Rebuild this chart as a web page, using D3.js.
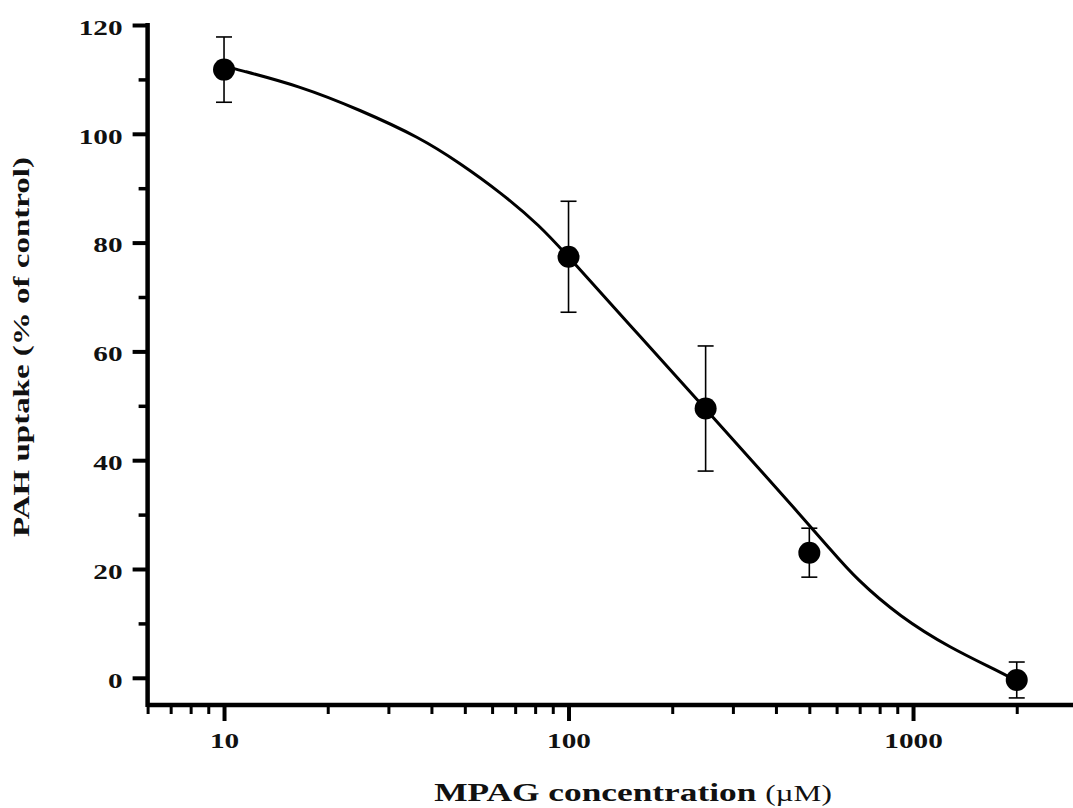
<!DOCTYPE html>
<html>
<head>
<meta charset="utf-8">
<script src="https://cdn.jsdelivr.net/npm/d3@7"></script>
<style>
  body { margin: 0; background: #fff; }
  text { font-family: "Liberation Serif", "Times New Roman", serif; fill: #111; }
</style>
</head>
<body>
<script>
// measured points (mean +/- error)
const concentration = [10, 100, 250, 500, 2000];
const uptake = [111.8, 77.4, 49.5, 23.0, -0.4];
const errorBar = [6.0, 10.2, 11.5, 4.5, 3.3];

// fitted curve
const curveConc = [10, 10.8, 16.6, 24.8, 37.1, 48.4, 63.3, 82.6, 100, 161, 250, 360, 470, 574, 683, 917, 1281, 1789, 2000];
const curveUptake = [112.5, 111.9, 108.8, 104.4, 99.3, 94.6, 89.3, 83.1, 77.4, 62.8, 49.4, 38.2, 30.0, 23.7, 18.2, 11.2, 5.5, 1.1, -0.6];

const yMajor = [0, 20, 40, 60, 80, 100, 120];
const yMinor = [10, 30, 50, 70, 90, 110];
const xMajor = [10, 100, 1000];
const xMinor = [6, 7, 8, 9, 20, 30, 40, 50, 60, 70, 80, 90, 200, 300, 400, 500, 600, 700, 800, 900, 2000];

const width = 1073;
const height = 808;

const svg = d3
  .select("body")
  .append("svg")
  .attr("width", width)
  .attr("height", height);

const x = d3.scaleLog().domain([6, 3000]).range([147.6, 1077.4]);
const y = d3.scaleLinear().domain([-5, 120]).range([705, 25]);

// axes
const xAxisMinor = d3.axisBottom(x).tickValues(xMinor).tickSize(9).tickFormat("");
const xAxisMajor = d3.axisBottom(x).tickValues(xMajor).tickSize(16).tickPadding(11).tickFormat(d3.format("d"));
const yAxisMinor = d3.axisLeft(y).tickValues(yMinor).tickSize(9).tickFormat("");
const yAxisMajor = d3.axisLeft(y).tickValues(yMajor).tickSize(15).tickPadding(10).tickFormat(d3.format("d"));

function styleAxis(g, w) {
  g.select(".domain").remove();
  g.selectAll(".tick line").attr("stroke", "#000").attr("stroke-width", w);
}

svg.append("g").attr("transform", `translate(0,${y(-5)})`).call(xAxisMinor).call((g) => styleAxis(g, 3));
const gx = svg.append("g").attr("transform", `translate(0,${y(-5)})`).call(xAxisMajor).call((g) => styleAxis(g, 4));
svg.append("g").attr("transform", `translate(${x(6)},0)`).call(yAxisMinor).call((g) => styleAxis(g, 3.5));
const gy = svg.append("g").attr("transform", `translate(${x(6)},0)`).call(yAxisMajor).call((g) => styleAxis(g, 4));

// tick labels are drawn wide in the original, so stretch them a bit
gx.selectAll(".tick text")
  .attr("font-size", 22)
  .attr("font-weight", "bold")
  .attr("fill", "#111")
  .attr("dy", "0.72em")
  .each(function () {
    const t = d3.select(this);
    const yy = +t.attr("y");
    t.attr("y", 0).attr("transform", `translate(0,${yy}) scale(1.33,1)`);
  });

gy.selectAll(".tick text")
  .attr("font-size", 22)
  .attr("font-weight", "bold")
  .attr("fill", "#111")
  .attr("dy", "0.42em")
  .each(function () {
    const t = d3.select(this);
    const xx = +t.attr("x");
    t.attr("x", 0).attr("transform", `translate(${xx},0) scale(1.33,1)`);
  });

// axis lines
svg.append("line")
  .attr("x1", x(6)).attr("x2", width)
  .attr("y1", y(-5)).attr("y2", y(-5))
  .attr("stroke", "#000").attr("stroke-width", 4.5);
svg.append("line")
  .attr("x1", x(6)).attr("x2", x(6))
  .attr("y1", y(120) - 2).attr("y2", y(-5) + 2)
  .attr("stroke", "#000").attr("stroke-width", 4.5);

// fitted curve (basis smooths out reading noise)
const line = d3
  .line()
  .x((d) => x(d[0]))
  .y((d) => y(d[1]))
  .curve(d3.curveBasis);

svg.append("path")
  .datum(d3.zip(curveConc, curveUptake))
  .attr("d", line)
  .attr("fill", "none")
  .attr("stroke", "#000")
  .attr("stroke-width", 3);

// error bars and markers
const points = concentration.map((c, i) => ({ c, v: uptake[i], e: errorBar[i] }));

const bars = svg.append("g").selectAll("g").data(points).enter().append("g");
bars.append("line")
  .attr("x1", (d) => x(d.c)).attr("x2", (d) => x(d.c))
  .attr("y1", (d) => y(d.v + d.e)).attr("y2", (d) => y(d.v - d.e))
  .attr("stroke", "#000").attr("stroke-width", 1.6);
[1, -1].forEach((s) => {
  bars.append("line")
    .attr("x1", (d) => x(d.c) - 8).attr("x2", (d) => x(d.c) + 8)
    .attr("y1", (d) => y(d.v + s * d.e)).attr("y2", (d) => y(d.v + s * d.e))
    .attr("stroke", "#000").attr("stroke-width", 1.6);
});
bars.append("circle")
  .attr("cx", (d) => x(d.c))
  .attr("cy", (d) => y(d.v))
  .attr("r", 11)
  .attr("fill", "#000");

// axis titles
const xTitle = svg.append("text")
  .attr("transform", "translate(633,801) scale(1.36,1)")
  .attr("text-anchor", "middle");
xTitle.append("tspan").attr("font-size", 26).attr("font-weight", "bold").text("MPAG concentration ");
xTitle.append("tspan").attr("font-size", 23).text("(\u00b5M)");

svg.append("text")
  .attr("transform", "translate(29,347) rotate(-90)")
  .attr("text-anchor", "middle")
  .attr("font-size", 24)
  .attr("font-weight", "bold")
  .attr("textLength", 380)
  .attr("lengthAdjust", "spacingAndGlyphs")
  .text("PAH uptake (% of control)");
</script>
</body>
</html>
